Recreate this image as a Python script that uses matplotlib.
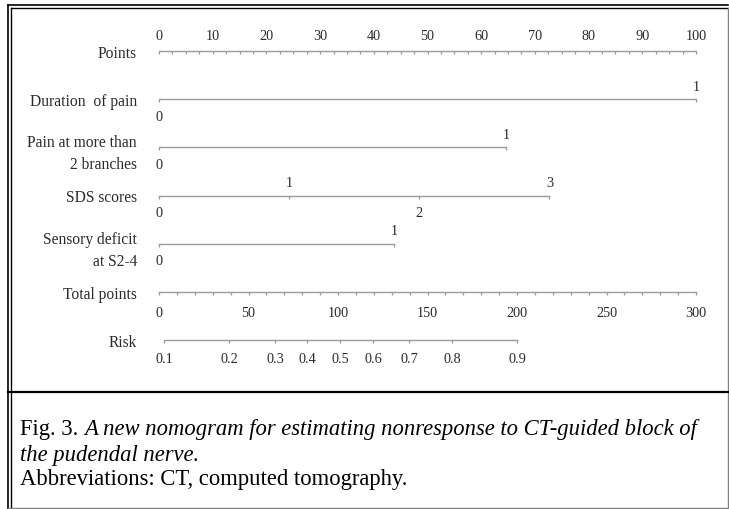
import matplotlib
matplotlib.use('Agg')
import matplotlib.pyplot as plt
from matplotlib.lines import Line2D

W, H = 729, 510

# nomogram rows, values (in "Points" units, 0-100)
row_names = ['Points', 'Duration  of pain', 'Pain at more than\n2 branches',
             'SDS scores', 'Sensory deficit\nat S2-4', 'Total points', 'Risk']

points_ticks = [0, 10, 20, 30, 40, 50, 60, 70, 80, 90, 100]
points_minor = [0, 2.5, 5, 7.5, 10, 12.5, 15, 17.5, 20, 22.5, 25, 27.5, 30, 32.5, 35, 37.5,
                40, 42.5, 45, 47.5, 50, 52.5, 55, 57.5, 60, 62.5, 65, 67.5, 70, 72.5, 75,
                77.5, 80, 82.5, 85, 87.5, 90, 92.5, 95, 97.5, 100]

duration_pts = [0, 100]
duration_lab = ['0', '1']
duration_side = ['below', 'above']

pain_pts = [0, 64.6]
pain_lab = ['0', '1']
pain_side = ['below', 'above']

sds_pts = [0, 24.2, 48.4, 72.7]
sds_lab = ['0', '1', '2', '3']
sds_side = ['below', 'above', 'below', 'above']

sensory_pts = [0, 43.8]
sensory_lab = ['0', '1']
sensory_side = ['below', 'above']

total_ticks = [0, 50, 100, 150, 200, 250, 300]
total_minor = [0, 10, 20, 30, 40, 50, 60, 70, 80, 90, 100, 110, 120, 130, 140, 150,
               160, 170, 180, 190, 200, 210, 220, 230, 240, 250, 260, 270, 280, 290, 300]
total_max = 300

risk_vals = ['0.1', '0.2', '0.3', '0.4', '0.5', '0.6', '0.7', '0.8', '0.9']
risk_total = [2.8, 39.1, 64.8, 82.7, 101.1, 119.5, 139.7, 163.7, 200.0]

plt.rcParams['font.family'] = ['Liberation Serif', 'DejaVu Serif']
line_col = '#9a9a9a'
text_col = '#2a2a2a'

fig = plt.figure(figsize=(W / 100, H / 100), dpi=100)
ax = fig.add_axes([159 / W, 1 - 341 / H, 537 / W, 289 / H])
ax.set_xlim(0, 100)
ax.set_ylim(6, 0)
ax.axis('off')


def label(x, row, s, dy, size=10.3):
    ax.annotate(s, xy=(x, row), xytext=(0, dy - 2), textcoords='offset pixels',
                ha='center', va='center', fontsize=size, color=text_col,
                annotation_clip=False)


def draw_axis(row, xs, ticks):
    ax.plot([min(xs), max(xs)], [row, row], color=line_col, lw=1, clip_on=False)
    ax.plot(ticks, [row] * len(ticks), ls='none', marker=3, ms=2.5,
            color=line_col, mew=0.9, clip_on=False)


# row labels
for i, name in enumerate(row_names):
    dy = -6 if '\n' in name else -2
    ax.annotate(name, xy=(0, i), xytext=(-22, dy), textcoords='offset pixels',
                ha='right', va='center', fontsize=11.2, color=text_col,
                linespacing=1.5, annotation_clip=False)

# Points
draw_axis(0, points_minor, points_minor)
for p in points_ticks:
    label(p, 0, str(p), 17)

# categorical rows
cat_rows = [(1, duration_pts, duration_lab, duration_side),
            (2, pain_pts, pain_lab, pain_side),
            (3, sds_pts, sds_lab, sds_side),
            (4, sensory_pts, sensory_lab, sensory_side)]
for row, pts, labs, sides in cat_rows:
    draw_axis(row, pts, pts)
    for p, s, side in zip(pts, labs, sides):
        label(p, row, s, 15 if side == 'above' else -15)

# Total points
tp_scaled = [t * 100 / total_max for t in total_minor]
draw_axis(5, tp_scaled, tp_scaled)
for t in total_ticks:
    label(t * 100 / total_max, 5, str(t), -19)

# Risk
risk_scaled = [t * 100 / total_max for t in risk_total]
draw_axis(6, risk_scaled, risk_scaled)
for x, s in zip(risk_scaled, risk_vals):
    label(x, 6, s, -17)


# frame of the figure panel
def hline(y, x0, x1, c='black', lw=1.0):
    fig.add_artist(Line2D([x0 / W, x1 / W], [1 - y / H, 1 - y / H], color=c, lw=lw))


def vline(x, y0, y1, c='black', lw=1.0):
    fig.add_artist(Line2D([x / W, x / W], [1 - y0 / H, 1 - y1 / H], color=c, lw=lw))


hline(5.5, 7.5, 728, lw=1.2)
hline(9, 10.5, 728, lw=1.0)
vline(8, 5.5, 509, lw=1.2)
vline(11, 9, 509, lw=1.0)
vline(727.5, 9, 509, c='#808080', lw=1.0)
hline(393, 8, 728, lw=1.6)
hline(508.5, 8, 728, c='#808080', lw=1.0)

# caption
cap_size = 16.3
t1 = fig.text(20 / W, 1 - 430 / H, 'Fig. 3. ', fontsize=cap_size, va='center', color='black')
fig.canvas.draw()
ext = t1.get_window_extent(fig.canvas.get_renderer())
fig.text(ext.x1 / W, 1 - 430 / H,
         'A new nomogram for estimating nonresponse to CT-guided block of',
         fontsize=cap_size, style='italic', va='center', color='black')
fig.text(20 / W, 1 - 455 / H, 'the pudendal nerve.', fontsize=cap_size,
         style='italic', va='center', color='black')
fig.text(20 / W, 1 - 480 / H, 'Abbreviations: CT, computed tomography.',
         fontsize=cap_size, va='center', color='black')

fig.savefig('out.png', dpi=100)
